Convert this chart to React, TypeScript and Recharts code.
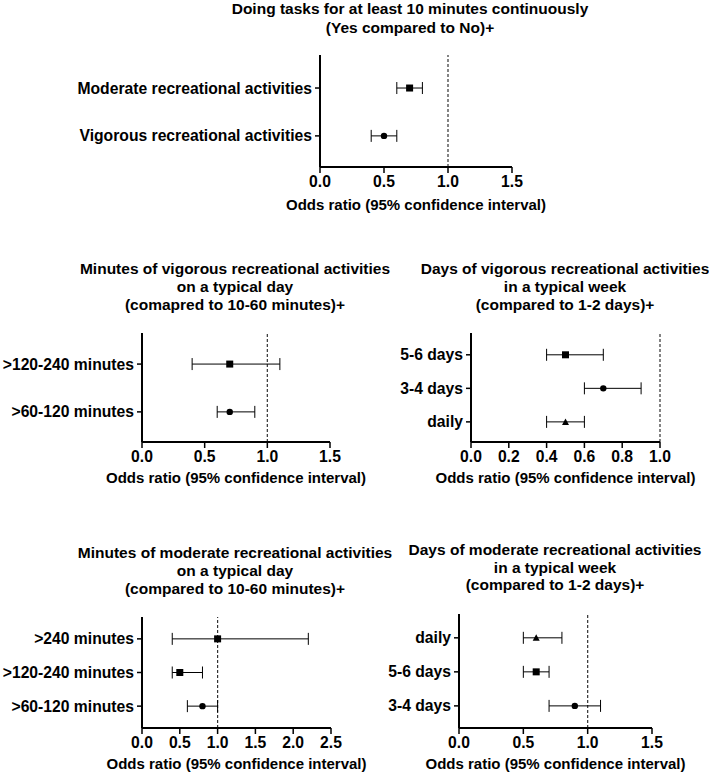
import React from "react";
import { ScatterChart, Scatter, XAxis, YAxis, ErrorBar, ReferenceLine } from "recharts";

// ─── Data (rows listed top to bottom) ─────────────────────────────────────────
const taskLabels = ["Moderate recreational activities", "Vigorous recreational activities"];
const taskOR = [0.7, 0.5];
const taskLow = [0.6, 0.4];
const taskHigh = [0.8, 0.6];
const taskSymbols = ["square", "circle"];

const vigMinLabels = [">120-240 minutes", ">60-120 minutes"];
const vigMinOR = [0.7, 0.7];
const vigMinLow = [0.4, 0.6];
const vigMinHigh = [1.1, 0.9];
const vigMinSymbols = ["square", "circle"];

const vigDayLabels = ["5-6 days", "3-4 days", "daily"];
const vigDayOR = [0.5, 0.7, 0.5];
const vigDayLow = [0.4, 0.6, 0.4];
const vigDayHigh = [0.7, 0.9, 0.6];
const vigDaySymbols = ["square", "circle", "triangle"];

const modMinLabels = [">240 minutes", ">120-240 minutes", ">60-120 minutes"];
const modMinOR = [1.0, 0.5, 0.8];
const modMinLow = [0.4, 0.4, 0.6];
const modMinHigh = [2.2, 0.8, 1.0];
const modMinSymbols = ["square", "square", "circle"];

const modDayLabels = ["daily", "5-6 days", "3-4 days"];
const modDayOR = [0.6, 0.6, 0.9];
const modDayLow = [0.5, 0.5, 0.7];
const modDayHigh = [0.8, 0.7, 1.1];
const modDaySymbols = ["triangle", "square", "circle"];

const ticks15 = [0, 0.5, 1, 1.5];
const ticks10 = [0, 0.2, 0.4, 0.6, 0.8, 1];
const ticks25 = [0, 0.5, 1, 1.5, 2, 2.5];

const X_LABEL = "Odds ratio (95% confidence interval)";

// ─── Helpers ─────────────────────────────────────────────────────────────────
const FONT = "'Liberation Sans', Arial, Helvetica, sans-serif";
const tickStyle = { fontSize: 15.7, fontWeight: 700, fill: "#000", fontFamily: FONT };

function buildRows(labels: string[], or: number[], low: number[], high: number[], sym: string[]) {
  const n = labels.length;
  return labels.map((label, i) => ({
    label,
    y: n - i,
    or: or[i],
    ci: [or[i] - low[i], high[i] - or[i]],
    sym: sym[i],
  }));
}

function Marker(props: any) {
  const { cx, cy, payload } = props;
  if (cx == null || cy == null) return null;
  if (payload.sym === "square") return <rect x={cx - 3.5} y={cy - 3.5} width={7} height={7} fill="#000" />;
  if (payload.sym === "triangle")
    return <polygon points={`${cx},${cy - 3.5} ${cx + 3.5},${cy + 3} ${cx - 3.5},${cy + 3}`} fill="#000" />;
  return <circle cx={cx} cy={cy} r={3.2} fill="#000" />;
}

interface PanelProps {
  rows: ReturnType<typeof buildRows>;
  svg: { left: number; top: number; width: number; height: number };
  plot: { left: number; top: number; right: number; bottom: number };
  xDomain: [number, number];
  xTicks: number[];
  yDomain: [number, number];
  title: string[];
  titleX: number;
  titleTop: number;
  titleLH: number;
  xLabelTop: number;
}

function Panel(p: PanelProps) {
  const yTicks = p.rows.map((r) => r.y);
  const labelOf = (v: number) => p.rows.find((r) => r.y === v)?.label ?? "";
  const plotCx = (p.plot.left + p.plot.right) / 2;
  return (
    <>
      <div style={{
        position: "absolute", left: p.titleX - 220, top: p.titleTop, width: 440, textAlign: "center",
        fontFamily: FONT, fontWeight: 700, fontSize: 15.5, lineHeight: `${p.titleLH}px`, color: "#000",
      }}>
        {p.title.map((t, i) => <div key={i}>{t}</div>)}
      </div>
      <div style={{ position: "absolute", left: p.svg.left, top: p.svg.top }}>
        <ScatterChart
          width={p.svg.width}
          height={p.svg.height}
          margin={{ top: p.plot.top - p.svg.top, right: p.svg.left + p.svg.width - p.plot.right, bottom: 0, left: 0 }}
        >
          <XAxis
            type="number" dataKey="or" domain={p.xDomain} ticks={p.xTicks} allowDataOverflow
            height={p.svg.top + p.svg.height - p.plot.bottom}
            tickFormatter={(v: number) => v.toFixed(1)} tick={tickStyle} tickSize={6} tickMargin={3}
            axisLine={{ stroke: "#000", strokeWidth: 2 }} tickLine={{ stroke: "#000", strokeWidth: 1.5 }}
            interval={0}
          />
          <YAxis
            type="number" dataKey="y" domain={p.yDomain} ticks={yTicks} allowDataOverflow
            width={p.plot.left - p.svg.left}
            tickFormatter={labelOf} tick={tickStyle} tickSize={5} tickMargin={3}
            axisLine={{ stroke: "#000", strokeWidth: 2 }} tickLine={{ stroke: "#000", strokeWidth: 1.5 }}
            interval={0}
          />
          <ReferenceLine x={1} stroke="#333" strokeDasharray="3 2" strokeWidth={1.2} />
          <Scatter data={p.rows} shape={<Marker />} isAnimationActive={false}>
            <ErrorBar dataKey="ci" direction="x" width={6} stroke="#000" strokeWidth={1} isAnimationActive={false} />
          </Scatter>
        </ScatterChart>
      </div>
      <div style={{
        position: "absolute", left: plotCx - 200, top: p.xLabelTop, width: 400, textAlign: "center",
        fontFamily: FONT, fontWeight: 700, fontSize: 15, lineHeight: "18px", color: "#000",
      }}>
        {X_LABEL}
      </div>
    </>
  );
}

export default function App() {
  return (
    <div style={{ position: "absolute", left: 0, top: 0, width: 709, height: 775, background: "#fff", overflow: "hidden" }}>
      <Panel
        rows={buildRows(taskLabels, taskOR, taskLow, taskHigh, taskSymbols)}
        svg={{ left: 0, top: 40, width: 530, height: 155 }}
        plot={{ left: 320, top: 55, right: 512, bottom: 167 }}
        xDomain={[0, 1.5]} xTicks={ticks15} yDomain={[0.35, 2.69]}
        title={["Doing tasks for at least 10 minutes continuously", "(Yes compared to No)+"]}
        titleX={410} titleTop={-1.5} titleLH={19} xLabelTop={196}
      />
      <Panel
        rows={buildRows(vigMinLabels, vigMinOR, vigMinLow, vigMinHigh, vigMinSymbols)}
        svg={{ left: 0, top: 320, width: 350, height: 148 }}
        plot={{ left: 142, top: 333, right: 330, bottom: 442 }}
        xDomain={[0, 1.5]} xTicks={ticks15} yDomain={[0.37, 2.65]}
        title={["Minutes of vigorous recreational activities", "on a typical day", "(comapred to 10-60 minutes)+"]}
        titleX={235} titleTop={260} titleLH={18} xLabelTop={469}
      />
      <Panel
        rows={buildRows(vigDayLabels, vigDayOR, vigDayLow, vigDayHigh, vigDaySymbols)}
        svg={{ left: 355, top: 320, width: 350, height: 148 }}
        plot={{ left: 471, top: 333, right: 660, bottom: 442 }}
        xDomain={[0, 1]} xTicks={ticks10} yDomain={[0.4, 3.65]}
        title={["Days of vigorous recreational activities", "in a typical week", "(compared to 1-2 days)+"]}
        titleX={565} titleTop={260} titleLH={18} xLabelTop={469}
      />
      <Panel
        rows={buildRows(modMinLabels, modMinOR, modMinLow, modMinHigh, modMinSymbols)}
        svg={{ left: 0, top: 600, width: 350, height: 152 }}
        plot={{ left: 142, top: 617, right: 331, bottom: 728 }}
        xDomain={[0, 2.5]} xTicks={ticks25} yDomain={[0.35, 3.65]}
        title={["Minutes of moderate recreational activities", "on a typical day", "(compared to 10-60 minutes)+"]}
        titleX={235} titleTop={544} titleLH={18} xLabelTop={755}
      />
      <Panel
        rows={buildRows(modDayLabels, modDayOR, modDayLow, modDayHigh, modDaySymbols)}
        svg={{ left: 355, top: 600, width: 350, height: 152 }}
        plot={{ left: 459, top: 614, right: 652, bottom: 728 }}
        xDomain={[0, 1.5]} xTicks={ticks15} yDomain={[0.35, 3.7]}
        title={["Days of moderate recreational activities", "in a typical week", "(compared to 1-2 days)+"]}
        titleX={555} titleTop={541} titleLH={17.5} xLabelTop={755}
      />
    </div>
  );
}
